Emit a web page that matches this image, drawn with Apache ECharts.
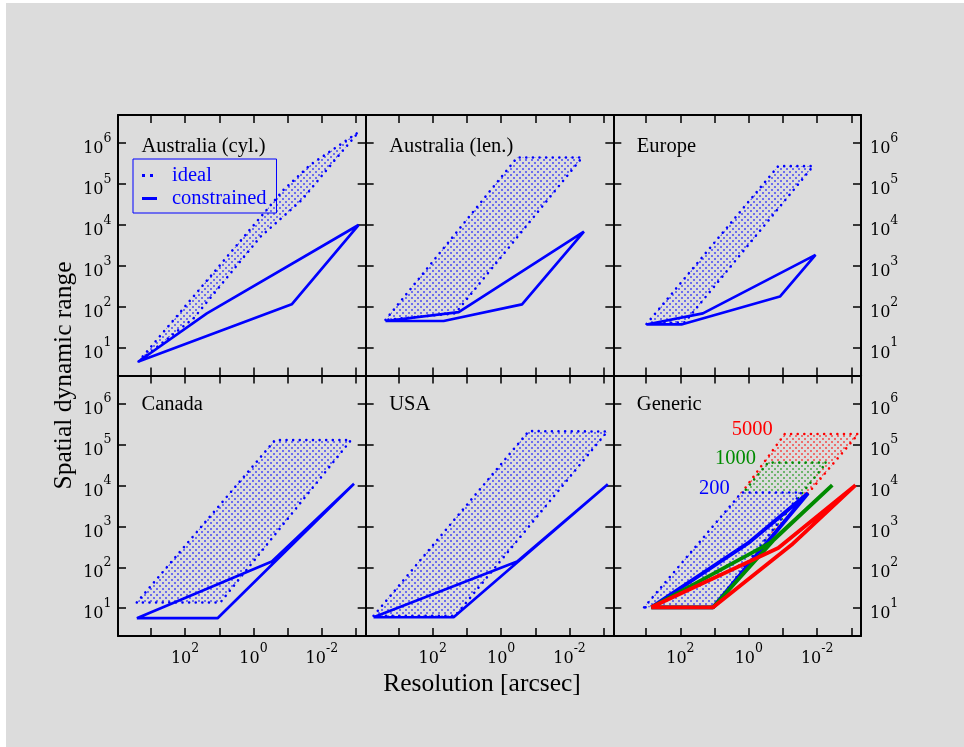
<!DOCTYPE html>
<html><head><meta charset="utf-8">
<script src="https://cdn.jsdelivr.net/npm/echarts@6/dist/echarts.min.js"></script>
<style>
html,body{margin:0;padding:0;background:#fff;width:964px;height:747px;overflow:hidden}
#bg{position:absolute;left:6px;top:3px;width:958px;height:744px;background:#dcdcdc}
#chart{position:absolute;left:0;top:0;width:964px;height:747px}
</style></head>
<body><div id="bg"></div><div id="chart"></div>
<script>
// ---------- data ----------
const panelTitles = ['Australia (cyl.)', 'Australia (len.)', 'Europe', 'Canada', 'USA', 'Generic'];
const xTickValues = [1e3, 1e2, 1e1, 1, 1e-1, 1e-2, 1e-3];
const xLabelValues = [1e2, 1, 1e-2];
const yTickValues = [1e1, 1e2, 1e3, 1e4, 1e5, 1e6];
const legendNames = ['ideal', 'constrained'];
const genericLabels = ['200', '1000', '5000'];

// [resolution (arcsec), spatial dynamic range]
const ausCylIdeal = [[2290, 4.6], [0.132, 72400], [0.0219, 295000], [0.00085, 1860000], [0.0029, 560000], [0.039, 40700], [0.63, 5130], [56, 52.5]];
const ausCylConstrained = [[2290, 4.6], [23, 69], [0.00085, 10000], [0.076, 115], [2290, 4.6]];
const ausLenIdeal = [[2400, 48], [0.34, 447000], [0.0043, 447000], [22, 69]];
const ausLenConstrained = [[2400, 45], [17.4, 74], [0.0038, 6900], [0.245, 115], [48, 45], [2400, 45]];
const europeIdeal = [[977, 38], [0.138, 275000], [0.0132, 275000], [74, 42]];
const europeConstrained = [[977, 37], [22, 69], [0.0112, 1860], [0.123, 178], [93, 37], [977, 37]];
const canadaIdeal = [[2570, 13.8], [0.234, 129000], [0.00141, 129000], [9.3, 13.8]];
const canadaConstrained = [[2570, 5.7], [0.29, 138], [0.00115, 11000], [11.2, 5.7], [2570, 5.7]];
const usaIdeal = [[5370, 6.5], [0.155, 214000], [0.00079, 209000], [22, 6.5]];
const usaConstrained = [[5370, 6.0], [0.34, 138], [0.00076, 10700], [24.5, 6.0], [5370, 6.0]];
const generic200Ideal = [[1150, 10.5], [1.62, 6760], [0.0288, 6760], [11, 10.5]];
const generic1000Ideal = [[600, 14], [0.275, 36300], [0.0054, 36300], [12.3, 10.5]];
const generic5000Ideal = [[400, 12], [0.089, 182000], [0.00063, 182000], [12.3, 10.5]];
const generic200Constrained = [[708, 10.5], [1.05, 389], [0.0186, 6460], [11, 10.5], [708, 10.5]];
const generic1000Constrained = [[708, 10.5], [0.245, 389], [0.00363, 10200], [0.195, 447], [11, 10.5], [708, 10.5]];
const generic5000Constrained = [[708, 10.5], [0.138, 295], [0.00076, 10200], [0.056, 355], [11, 10.5], [708, 10.5]];

// ---------- layout / style ----------
const BLUE = '#0000ff', RED = '#ff0000', GREEN = '#008b00', BG = '#dcdcdc';
const X_MIN = Math.pow(10, -3.28), X_MAX = Math.pow(10, 3.96);
const Y_MIN = Math.pow(10, 0.32), Y_MAX = Math.pow(10, 6.69);
const GRID_LEFT = [118, 365.67, 613.33], GRID_TOP = [115, 375.5];
const GRID_W = 247.67, GRID_H = 260.5;
const SERIF = '"Liberation Serif", "Times New Roman", serif';
const TICKFONT = '"DejaVu Serif", serif';

function makePattern(color) {
  const c = document.createElement('canvas');
  c.width = 6; c.height = 6;
  const ctx = c.getContext('2d');
  ctx.globalAlpha = 0.5;
  ctx.fillStyle = color;
  ctx.fillRect(0, 0, 2, 2);
  ctx.fillRect(3, 3, 2, 2);
  return { image: c, repeat: 'repeat' };
}

const rich = {
  b: { fontFamily: TICKFONT, fontSize: 16, color: '#000', padding: [12, 0, 0, 0] },
  s: { fontFamily: TICKFONT, fontSize: 12.5, color: '#000', padding: [0, 0, 9, 0] }
};
function powLabel(v) {
  const e = Math.round(Math.log10(v));
  return '{b|10}{s|' + e + '}';
}

const grids = [], xAxes = [], yAxes = [], titles = [], series = [];
for (let i = 0; i < 6; i++) {
  const c = i % 3, r = Math.floor(i / 3);
  grids.push({ left: GRID_LEFT[c], top: GRID_TOP[r], width: GRID_W, height: GRID_H, containLabel: false });
  const line = { show: true, onZero: false, lineStyle: { color: '#000', width: 2 } };
  const xTick = { show: true, inside: true, length: 8, lineStyle: { color: '#000', width: 1.5 }, customValues: xTickValues };
  const yTick = { show: true, inside: true, length: 8, lineStyle: { color: '#000', width: 1.5 }, customValues: yTickValues };
  xAxes.push({
    type: 'log', logBase: 10, gridIndex: i, position: 'bottom', inverse: true, min: X_MIN, max: X_MAX,
    axisLine: line, axisTick: xTick, splitLine: { show: false },
    axisLabel: { show: r === 1, customValues: xLabelValues, formatter: powLabel, rich: rich, margin: 3 }
  });
  xAxes.push({
    type: 'log', logBase: 10, gridIndex: i, position: 'top', inverse: true, min: X_MIN, max: X_MAX,
    axisLine: line, axisTick: xTick, splitLine: { show: false }, axisLabel: { show: false }
  });
  yAxes.push({
    type: 'log', logBase: 10, gridIndex: i, position: 'left', min: Y_MIN, max: Y_MAX,
    axisLine: line, axisTick: yTick, splitLine: { show: false },
    axisLabel: { show: c === 0, customValues: yTickValues, formatter: powLabel, rich: rich, margin: 6.5 }
  });
  yAxes.push({
    type: 'log', logBase: 10, gridIndex: i, position: 'right', min: Y_MIN, max: Y_MAX,
    axisLine: line, axisTick: yTick, splitLine: { show: false },
    axisLabel: { show: c === 2, customValues: yTickValues, formatter: powLabel, rich: rich, margin: 9 }
  });
  titles.push({
    text: panelTitles[i], left: GRID_LEFT[c] + 23.5, top: GRID_TOP[r] + (r === 0 ? 19.7 : 17.5), padding: 0,
    textStyle: { fontFamily: SERIF, fontSize: 20.5, fontWeight: 'normal', color: '#000', lineHeight: 24 }
  });
}
titles.push({
  text: 'Resolution [arcsec]', left: 'center', top: 671, padding: 0,
  textStyle: { fontFamily: SERIF, fontSize: 25.5, fontWeight: 'normal', color: '#000', lineHeight: 26 }
});

function idealSeries(name, grid, pts, color, label) {
  const pattern = makePattern(color);
  return {
    type: 'custom', name: name, xAxisIndex: 2 * grid, yAxisIndex: 2 * grid, z: 2,
    data: [pts[0]],
    encode: { x: 0, y: 1 },
    renderItem: function (params, api) {
      if (params.dataIndex !== 0) return;
      const p = pts.map(function (v) { return api.coord(v); });
      const children = [
        { type: 'polygon', shape: { points: p }, style: { fill: BG } },
        {
          type: 'polygon', shape: { points: p },
          style: { fill: pattern, stroke: color, lineWidth: 2.6, lineDash: [0.01, 6.6], lineCap: 'round' }
        }
      ];
      if (label) {
        children.push({
          type: 'text', x: p[1][0] - 12, y: p[1][1] - 4,
          style: { text: label, fill: color, font: '20.5px ' + SERIF, align: 'right', verticalAlign: 'middle' }
        });
      }
      return { type: 'group', children: children };
    }
  };
}
function constrainedSeries(name, grid, pts, color, width) {
  return {
    type: 'line', name: name, xAxisIndex: 2 * grid, yAxisIndex: 2 * grid, z: 3,
    data: pts, symbol: 'none', showSymbol: false,
    lineStyle: { color: color, width: width }, itemStyle: { color: color }
  };
}

series.push(idealSeries('ideal', 0, ausCylIdeal, BLUE));
series.push(constrainedSeries('constrained', 0, ausCylConstrained, BLUE, 2.7));
series.push(idealSeries('ideal (len.)', 1, ausLenIdeal, BLUE));
series.push(constrainedSeries('constrained (len.)', 1, ausLenConstrained, BLUE, 2.7));
series.push(idealSeries('ideal (Europe)', 2, europeIdeal, BLUE));
series.push(constrainedSeries('constrained (Europe)', 2, europeConstrained, BLUE, 2.7));
series.push(idealSeries('ideal (Canada)', 3, canadaIdeal, BLUE));
series.push(constrainedSeries('constrained (Canada)', 3, canadaConstrained, BLUE, 2.7));
series.push(idealSeries('ideal (USA)', 4, usaIdeal, BLUE));
series.push(constrainedSeries('constrained (USA)', 4, usaConstrained, BLUE, 2.7));
series.push(idealSeries('ideal 5000', 5, generic5000Ideal, RED, genericLabels[2]));
series.push(idealSeries('ideal 1000', 5, generic1000Ideal, GREEN, genericLabels[1]));
series.push(idealSeries('ideal 200', 5, generic200Ideal, BLUE, genericLabels[0]));
series.push(constrainedSeries('constrained 200', 5, generic200Constrained, BLUE, 3.8));
series.push(constrainedSeries('constrained 1000', 5, generic1000Constrained, GREEN, 3.8));
series.push(constrainedSeries('constrained 5000', 5, generic5000Constrained, RED, 3.8));

const option = {
  backgroundColor: 'transparent',
  animation: false,
  grid: grids, xAxis: xAxes, yAxis: yAxes, title: titles, series: series,
  legend: {
    left: 133, top: 159, orient: 'vertical', borderColor: BLUE, borderWidth: 1,
    padding: [6, 10, 4, 9], itemGap: 2, itemWidth: 15, itemHeight: 3,
    selectedMode: false,
    textStyle: { color: BLUE, fontFamily: SERIF, fontSize: 20.5, padding: [0, 0, 0, 10] },
    data: [
      { name: legendNames[0], icon: 'path://M0,0h3v3h-3zM8,0h3v3h-3zM15,0h0.01v3h-0.01z', itemStyle: { color: BLUE } },
      { name: legendNames[1], icon: 'path://M0,0h15v3h-15z', itemStyle: { color: BLUE } }
    ]
  },
  graphic: [{
    type: 'text', x: 64, y: 375.5, rotation: Math.PI / 2,
    style: { text: 'Spatial dynamic range', font: '25.5px ' + SERIF, fill: '#000', align: 'center', verticalAlign: 'middle' }
  }]
};
const chart = echarts.init(document.getElementById('chart'), null, { renderer: 'canvas' });
chart.setOption(option);
</script>
</body></html>
